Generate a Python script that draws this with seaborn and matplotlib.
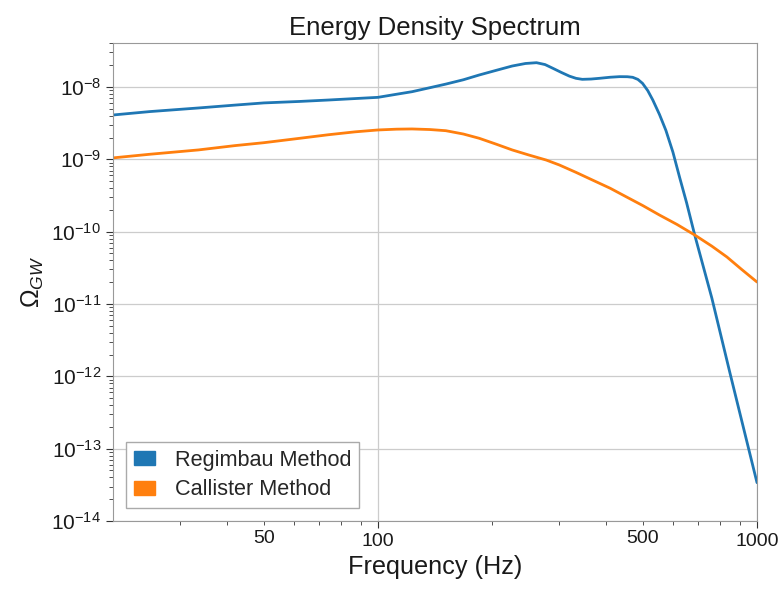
import numpy as np
import pandas as pd
import matplotlib
matplotlib.use("Agg")
import matplotlib.pyplot as plt
from matplotlib.patches import Patch
from matplotlib.ticker import LogLocator, NullFormatter, FixedLocator, FixedFormatter
import seaborn as sns

# --- data ---
regimbau_freq = [20, 25, 33.6, 42, 50, 62, 74, 87, 100, 112, 123, 137, 151, 168, 185, 205,
                 226, 245, 262, 276, 289, 305, 320, 333, 346, 365, 384, 410, 434, 455, 470,
                 485, 499, 515, 531, 543, 553, 575, 600, 625, 652, 685, 760, 850, 1000]
regimbau_log = [-8.387, -8.34, -8.29, -8.25, -8.22, -8.20, -8.18, -8.16, -8.143, -8.10, -8.065,
                -8.01, -7.96, -7.90, -7.834, -7.77, -7.71, -7.675, -7.664, -7.69, -7.74, -7.80,
                -7.85, -7.88, -7.894, -7.89, -7.88, -7.865, -7.857, -7.858, -7.866, -7.895, -7.95,
                -8.05, -8.18, -8.29, -8.38, -8.60, -8.90, -9.25, -9.60, -10.046, -10.917, -11.97, -13.47]
callister_freq = [20, 25, 33.6, 42, 50, 62, 74, 87, 100, 112, 123, 137, 151, 168, 185, 205,
                  226, 250, 278, 301, 333, 368, 410, 453, 500, 553, 615, 685, 760, 833, 910, 1000]
callister_log = [-8.98, -8.93, -8.87, -8.81, -8.77, -8.71, -8.66, -8.62, -8.594, -8.583, -8.58,
                 -8.588, -8.604, -8.65, -8.709, -8.79, -8.87, -8.94, -9.01, -9.078, -9.18, -9.286,
                 -9.40, -9.521, -9.64, -9.77, -9.90, -10.046, -10.20, -10.35, -10.52, -10.696]
series_names = ["Regimbau Method", "Callister Method"]
colors = ["#1f77b4", "#ff7f0e"]
x_major_ticks = [100, 1000]
x_major_labels = ["100", "1000"]
x_minor_ticks = [30, 40, 50, 60, 70, 80, 90, 200, 300, 400, 500, 600, 700, 800, 900]
x_minor_labels = ["", "", "50", "", "", "", "", "", "", "", "500", "", "", "", ""]

df = pd.concat([
    pd.DataFrame({"freq": regimbau_freq, "omega": np.power(10.0, regimbau_log), "method": series_names[0]}),
    pd.DataFrame({"freq": callister_freq, "omega": np.power(10.0, callister_log), "method": series_names[1]}),
])

sns.set_style("ticks")
plt.rcParams["font.family"] = ["Liberation Sans", "DejaVu Sans"]
plt.rcParams["mathtext.fontset"] = "custom"
plt.rcParams["mathtext.rm"] = "Liberation Sans"
plt.rcParams["mathtext.it"] = "Liberation Sans:italic"
plt.rcParams["mathtext.sf"] = "Liberation Sans"

fig = plt.figure(figsize=(7.83, 5.92), dpi=100)
ax = fig.add_axes([0.1443, 0.1199, 0.8225, 0.8075])

sns.lineplot(data=df, x="freq", y="omega", hue="method", palette=colors,
             linewidth=2, ax=ax, legend=False, sort=False)

ax.set_xscale("log")
ax.set_yscale("log")
ax.set_xlim(20, 1000)
ax.set_ylim(1e-14, 4.06e-8)

ax.xaxis.set_major_locator(FixedLocator(x_major_ticks))
ax.xaxis.set_major_formatter(FixedFormatter(x_major_labels))
ax.xaxis.set_minor_locator(FixedLocator(x_minor_ticks))
ax.xaxis.set_minor_formatter(FixedFormatter(x_minor_labels))
ax.yaxis.set_major_locator(LogLocator(base=10, numticks=20))
ax.yaxis.set_minor_locator(LogLocator(base=10, subs=np.arange(2, 10), numticks=20))
ax.yaxis.set_minor_formatter(NullFormatter())

ax.grid(True, which="major", color="#cccccc", linewidth=0.9)
for s in ax.spines.values():
    s.set_color("#999999")
ax.tick_params(which="both", direction="out", colors="#333333", labelcolor="#1a1a1a")
ax.tick_params(axis="y", which="major", labelsize=15)
ax.tick_params(axis="x", which="both", labelsize=14)
ax.tick_params(which="major", length=5)
ax.tick_params(which="minor", length=3)

ax.set_title("Energy Density Spectrum", fontsize=18.5, color="#1a1a1a")
ax.set_xlabel("Frequency (Hz)", fontsize=18.2, color="#1a1a1a")
ax.set_ylabel(r"$\Omega_{GW}$", fontsize=18, color="#1a1a1a")

handles = [Patch(facecolor=c, edgecolor=c, label=n) for c, n in zip(colors, series_names)]
leg = ax.legend(handles=handles, loc="lower left", fontsize=15.6, fancybox=False,
                edgecolor="#aaaaaa", framealpha=1, handlelength=1.0, handleheight=0.6,
                handletextpad=0.9, borderaxespad=0.6, labelspacing=0.4, borderpad=0.35)

fig.savefig("out.png", dpi=100)
